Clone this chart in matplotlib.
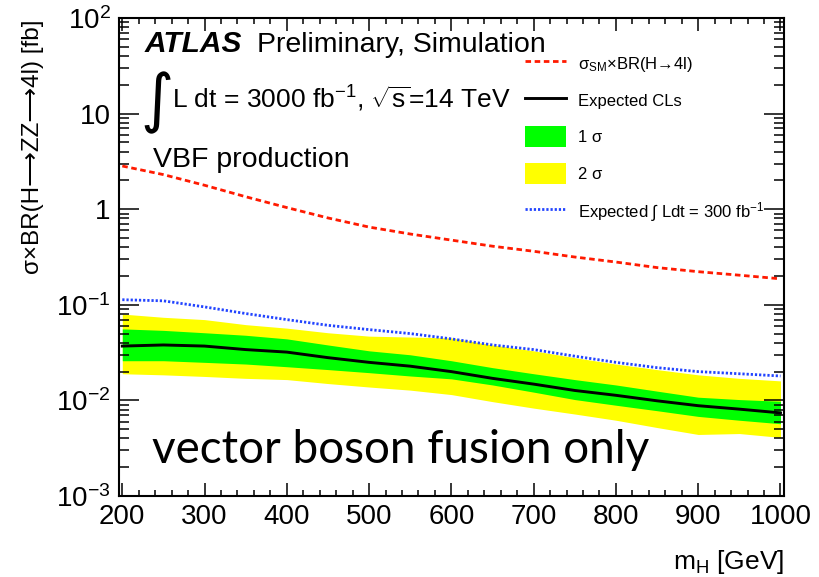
import numpy as np
import matplotlib
matplotlib.use("Agg")
import matplotlib.pyplot as plt
from matplotlib.lines import Line2D
from matplotlib.patches import Patch
from matplotlib.ticker import FixedLocator, FixedFormatter, LogLocator, MultipleLocator, NullFormatter

plt.rcParams['font.family'] = ['Liberation Sans', 'DejaVu Sans']
plt.rcParams['mathtext.fontset'] = 'custom'
plt.rcParams['mathtext.rm'] = 'Liberation Sans'
plt.rcParams['mathtext.it'] = 'Liberation Sans:italic'
plt.rcParams['mathtext.bf'] = 'Liberation Sans:bold'

# Higgs mass points [GeV]
mass = [200, 250, 300, 350, 400, 450, 500, 550, 600, 650, 700, 750, 800, 850, 900, 950, 1000]

# SM cross section x BR(H->4l) [fb]
xsec_sm = [2.83, 2.3, 1.78, 1.35, 1.04, 0.81, 0.65, 0.55, 0.475, 0.41, 0.363, 0.316, 0.28, 0.245, 0.222, 0.204, 0.187]

# expected CLs limit, 3000 fb-1
exp_limit = [0.037, 0.038, 0.037, 0.034, 0.032, 0.028, 0.025, 0.0228, 0.020, 0.017, 0.0148, 0.0127, 0.0113, 0.0099, 0.0088, 0.0081, 0.0074]
band1_up = [0.056, 0.054, 0.051, 0.048, 0.044, 0.038, 0.033, 0.030, 0.026, 0.022, 0.019, 0.0165, 0.0145, 0.0125, 0.0108, 0.0102, 0.0098]
band1_dn = [0.026, 0.026, 0.025, 0.024, 0.0225, 0.021, 0.0195, 0.018, 0.0168, 0.0145, 0.0122, 0.0102, 0.0089, 0.0078, 0.0068, 0.0062, 0.0057]
band2_up = [0.080, 0.074, 0.070, 0.062, 0.057, 0.051, 0.047, 0.046, 0.045, 0.038, 0.033, 0.028, 0.024, 0.021, 0.0185, 0.017, 0.016]
band2_dn = [0.019, 0.0185, 0.0178, 0.017, 0.0165, 0.015, 0.0138, 0.0128, 0.0115, 0.0097, 0.0083, 0.0072, 0.0062, 0.0052, 0.0044, 0.0045, 0.0041]

# expected limit with 300 fb-1
exp_limit_300 = [0.113, 0.110, 0.095, 0.081, 0.070, 0.061, 0.055, 0.050, 0.044, 0.038, 0.034, 0.029, 0.025, 0.022, 0.020, 0.019, 0.018]

ytick_vals = [1e-3, 1e-2, 1e-1, 1, 10, 100]
ytick_labels = [r'$10^{-3}$', r'$10^{-2}$', r'$10^{-1}$', '1', '10', r'$10^{2}$']

fig = plt.figure(figsize=(8.19, 5.77), dpi=100)
ax = fig.add_axes([0.1453, 0.1404, 0.8117, 0.8284])

red_dash = (0, (2.0, 1.3))
blue_dot = (0, (0.8, 0.7))

ax.fill_between(mass, band2_dn, band2_up, color='#ffff00', lw=0)
ax.fill_between(mass, band1_dn, band1_up, color='#00ff00', lw=0)
ax.plot(mass, exp_limit, color='black', lw=2.1)
ax.plot(mass, xsec_sm, color='#ff1a00', lw=2.0, ls=red_dash)
ax.plot(mass, exp_limit_300, color='#2244ff', lw=2.0, ls=blue_dot)

ax.set_yscale('log')
ax.set_xlim(196, 1004)
ax.set_ylim(1e-3, 1e2)

ax.xaxis.set_major_locator(MultipleLocator(100))
ax.xaxis.set_minor_locator(MultipleLocator(20))
ax.yaxis.set_major_locator(FixedLocator(ytick_vals))
ax.yaxis.set_major_formatter(FixedFormatter(ytick_labels))
ax.yaxis.set_minor_locator(LogLocator(base=10, subs=np.arange(2, 10)))
ax.yaxis.set_minor_formatter(NullFormatter())

ax.tick_params(axis='both', which='both', direction='in', top=True, right=True, width=1.1, labelsize=20)
ax.tick_params(axis='x', which='major', length=9.5, pad=6)
ax.tick_params(axis='x', which='minor', length=4.5)
ax.tick_params(axis='y', which='major', length=14.5, pad=6)
ax.tick_params(axis='y', which='minor', length=7.2)
for s in ax.spines.values():
    s.set_linewidth(1.5)

fig.text(33 / 819, 1 - 20 / 577, 'σ×BR(H⟶ZZ⟶4l) [fb]', fontsize=17.5, rotation=90,
         ha='center', va='top')
ax.set_xlabel(r'm$_{\mathrm{H}}$ [GeV]', fontsize=19, loc='right', labelpad=13)

# labels
fig.text(145 / 819, 1 - 52 / 577, 'ATLAS', fontsize=21.5, fontweight='bold', fontstyle='italic', va='baseline')
fig.text(257 / 819, 1 - 52 / 577, 'Preliminary, Simulation', fontsize=20.5, va='baseline')
fig.text(140 / 819, 1 - 120 / 577, '∫', fontsize=46, family='DejaVu Sans', va='baseline')
fig.text(172 / 819, 1 - 108 / 577, r'L dt = 3000 fb$^{-1}$, $\sqrt{\mathrm{s}}$=14 TeV', fontsize=19, va='baseline')
fig.text(153 / 819, 1 - 167 / 577, 'VBF production', fontsize=20.5, va='baseline')
fig.text(152 / 819, 1 - 463 / 577, 'vector boson fusion only', fontsize=33, family='Lato', va='baseline')

handles = [
    Line2D([], [], color='#ff1a00', lw=2.0, ls=red_dash),
    Line2D([], [], color='black', lw=2.1),
    Patch(facecolor='#00ff00', lw=0),
    Patch(facecolor='#ffff00', lw=0),
    Line2D([], [], color='#2244ff', lw=2.0, ls=blue_dot),
]
labels = [
    r'σ$_{\mathrm{SM}}$×BR(H→4l)',
    'Expected CLs',
    '1 σ',
    '2 σ',
    r'Expected $\int$ Ldt = 300 fb$^{-1}$',
]
ax.legend(handles, labels, loc='upper left', bbox_to_anchor=(525 / 819, 1 - 53 / 577),
          bbox_transform=fig.transFigure, frameon=False, fontsize=12,
          handlelength=2.45, handleheight=1.55, handletextpad=0.7,
          labelspacing=0.95, borderpad=0, borderaxespad=0)

fig.savefig('out.png', dpi=100)
